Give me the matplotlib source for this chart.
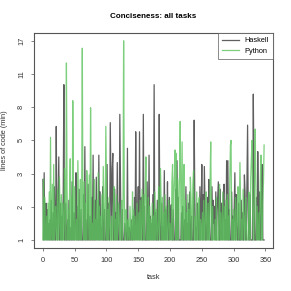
import numpy as np
import matplotlib
matplotlib.use("Agg")
import matplotlib.pyplot as plt

plt.rcParams['font.family'] = ['Liberation Sans', 'DejaVu Sans']

# lines of code relative to the shorter solution, one value per task (0..348)
haskell = [
    2.9, 1, 3.2, 1, 1.3, 2.0, 1, 1.8, 1, 1.4,
    1, 1.5, 1, 2.1, 1, 1, 1.7, 1, 2.6, 1,
    1, 6.0, 1.4, 1, 2.2, 4.0, 1, 1, 2.0, 1,
    1.6, 1, 2.4, 10.1, 1, 1, 2.0, 1, 1, 1.5,
    1, 2.1, 1, 1, 1.3, 1, 2.8, 1, 1, 1.7,
    1, 1.4, 3.2, 1, 1.9, 1, 1, 2.5, 1, 1,
    1.8, 1, 1, 1, 2.3, 1, 4.6, 1, 1.5, 1,
    1, 2.7, 1, 1, 1.6, 1, 1, 2.2, 1, 4.1,
    1, 1, 2.1, 1, 3.0, 1, 1.5, 1, 4.1, 1,
    2.4, 1, 1.3, 1, 2.6, 1, 1, 1.8, 1, 1,
    1, 3.6, 1, 2.0, 1, 1, 6.3, 2.8, 1, 3.4,
    4.2, 1, 1, 2.5, 1, 1.7, 1, 3.7, 1, 1,
    1, 7.0, 2.9, 1, 1, 1.8, 1, 1, 1, 1.4,
    1.2, 1, 1, 4.5, 1, 1, 1.3, 1, 1, 1.5,
    1, 1, 1.6, 1, 2.2, 1, 5.6, 1.9, 1, 1.5,
    2.6, 1, 5.6, 1, 1.8, 2.2, 1, 1, 7.0, 1,
    1.9, 1, 1, 1, 2.8, 1, 1, 4.1, 1, 1.6,
    1, 1.4, 1, 2.3, 1, 10.1, 1, 1.7, 1, 1,
    2.1, 1, 1, 7.0, 1.5, 1, 1, 2.0, 1, 1.3,
    1, 3.3, 1, 1.8, 1, 1.4, 2.8, 1, 1, 2.2,
    1, 1.6, 1.95, 1, 1, 1.8, 1, 1, 1, 2.5,
    1, 3.8, 1, 2.2, 1, 1, 1, 1, 1.7, 1,
    1.9, 1, 1, 1.5, 1, 2.6, 1, 1.4, 1, 2.0,
    1, 2.4, 1, 1, 1.6, 1, 1, 1, 6.5, 2.1,
    1, 1.3, 1, 2.0, 1.7, 1, 1, 2.6, 1, 1.8,
    3.6, 1, 2.3, 1, 3.5, 2.0, 1, 1, 1.6, 2.2,
    1, 2.9, 1.5, 1, 1, 1, 2.6, 1, 2.1, 1.4,
    1.9, 1, 2.4, 1, 1.7, 2.2, 2.8, 1, 1, 2.5,
    1, 2.0, 1.6, 1, 2.3, 2.7, 1, 1.5, 1, 3.8,
    1, 3.8, 1, 1.8, 1, 1, 1, 2.4, 1, 1.6,
    1, 1.9, 3.2, 1, 2.3, 1.4, 1, 1, 2.0, 1,
    1, 1, 2.1, 1, 1.7, 1, 1, 3.1, 2.4, 1,
    1, 2.6, 6.1, 1.8, 1, 1, 2.3, 1, 1, 1,
    1, 9.0, 2.9, 1, 1, 1, 2.2, 1, 4.3, 2.0,
    1, 2.4, 1, 1, 2.2, 3.6, 1, 1, 1,
]
python = [
    1, 2.9, 1, 2.2, 1, 1, 1.6, 1, 2.0, 1,
    2.4, 1, 5.2, 1, 1.8, 2.7, 1, 3.6, 1, 1.5,
    1.9, 1, 1, 2.5, 1, 1, 3.0, 1.6, 1, 2.3,
    1, 2.0, 1, 1, 3.4, 1.7, 1, 13.1, 2.6, 1,
    1.8, 1, 2.4, 3.9, 1, 2.2, 1, 8.3, 3.0, 1,
    2.6, 1, 1, 1.5, 1, 3.8, 2.1, 1, 1.7, 2.9,
    1, 2.2, 15.6, 1.6, 1, 2.8, 1, 2.0, 1, 3.3,
    2.5, 1, 1.9, 3.1, 1, 7.6, 2.4, 1, 1.4, 1,
    1.7, 2.9, 1, 1.5, 1, 2.1, 1, 3.2, 1, 1.9,
    1, 1.6, 1, 2.3, 1, 3.5, 2.0, 1, 1.4, 6.0,
    2.7, 1, 1.8, 1, 2.2, 1.5, 1, 1, 1.6, 1,
    1, 1.9, 2.6, 1, 1.5, 1, 2.3, 1, 1.3, 2.0,
    1.6, 1, 1, 1.4, 2.1, 1, 1.7, 17.0, 2.4, 1,
    1, 1.8, 1.3, 1, 1.5, 1.2, 1, 1.9, 1.4, 1,
    1.3, 2.4, 1, 1.8, 1, 1.6, 1, 1, 2.0, 1,
    1, 1.7, 1, 2.1, 1, 1, 2.5, 1.6, 1, 2.3,
    1, 2.6, 4.0, 1.8, 1, 1.4, 2.2, 1, 1.9, 1,
    1.5, 1, 2.0, 1, 1.6, 1, 2.4, 1, 1.8, 1.3,
    1, 1.4, 2.6, 1, 1, 3.4, 1.9, 1, 2.2, 1,
    1.7, 1, 2.3, 1, 1.9, 1, 1, 1.5, 2.1, 1,
    1.4, 1, 1, 2.8, 3.6, 1, 2.4, 3.1, 4.4, 1,
    4.2, 1, 2.9, 1, 1.8, 3.3, 6.4, 2.0, 1, 4.9,
    1, 2.5, 3.6, 1, 2.1, 1, 1.7, 1, 2.3, 1,
    1.8, 1, 3.0, 2.2, 1, 1.5, 2.7, 3.3, 1, 1,
    1.6, 1, 2.4, 1, 1, 1.9, 2.2, 1, 1.5, 1,
    1, 1.7, 1, 2.1, 1, 1, 1.8, 2.4, 1, 1,
    2.0, 1, 1, 2.8, 4.9, 1.6, 1, 1.9, 1, 1,
    1, 1.5, 1, 2.2, 1, 1, 1, 1.8, 2.7, 1,
    1.7, 1, 1, 2.4, 1, 1, 1.9, 1, 2.1, 1,
    2.3, 1, 1.6, 1, 2.8, 4.7, 5.0, 1, 1.5, 1,
    1.8, 1, 1, 2.2, 1, 1, 1.9, 2.6, 1, 1.6,
    3.7, 2.0, 1, 1.5, 1, 2.5, 1.7, 1, 1, 2.2,
    1.4, 1, 1, 1, 2.4, 1.8, 1, 3.0, 4.0, 5.0,
    2.1, 1, 1, 3.4, 5.8, 2.6, 1, 1.9, 1, 1,
    1.7, 1, 2.8, 4.1, 1, 1, 2.0, 2.8, 4.7,
]
ytick_labels = ['1', '2', '3', '5', '8', '11', '17']
xticks = [0, 50, 100, 150, 200, 250, 300, 350]

tasks = np.arange(len(haskell))

fig = plt.figure(figsize=(2.91, 2.91), dpi=100)
ax = fig.add_axes([0.117, 0.148, 0.821, 0.739])

ax.plot(tasks, haskell, color='#4d4d4d', lw=0.9, alpha=0.9, label='Haskell')
ax.plot(tasks, python, color='#5cc45c', lw=0.9, alpha=0.8, label='Python')

# y axis on a log(1+y) scale, ticks evenly spaced like the original
ax.set_yscale('function', functions=(np.log1p, np.expm1))
lo, hi = np.log(2), np.log(18)
ax.set_yticks(np.expm1(np.linspace(lo, hi, len(ytick_labels))))
ax.set_yticklabels(ytick_labels, rotation=90, va='center')
pad = 0.04 * (hi - lo)
ax.set_ylim(np.expm1(lo - pad), np.expm1(hi + pad))
ax.set_xlim(-0.04 * 348, 348 * 1.04)
ax.set_xticks(xticks)
ax.minorticks_off()

ax.tick_params(labelsize=5.3, length=2.5, width=0.5, color='#555555', labelcolor='#333333')
ax.tick_params(axis='x', pad=4)
ax.tick_params(axis='y', pad=4)
for s in ax.spines.values():
    s.set_color('#555555')
    s.set_linewidth(0.8)

ax.set_xlabel('task', fontsize=5.3, color='#333333', labelpad=7)
ax.set_ylabel('lines of code (min)', fontsize=5.3, color='#333333', labelpad=7)
ax.set_title('Conciseness: all tasks', fontsize=5.8, fontweight='bold', pad=11)

leg = ax.legend(loc='upper right', fontsize=5.3, frameon=True, fancybox=False,
                borderaxespad=0, handlelength=2.2, borderpad=0.6, labelspacing=0.4)
leg.get_frame().set_edgecolor('#555555')
leg.get_frame().set_linewidth(0.6)

fig.savefig('out.png', dpi=100)
